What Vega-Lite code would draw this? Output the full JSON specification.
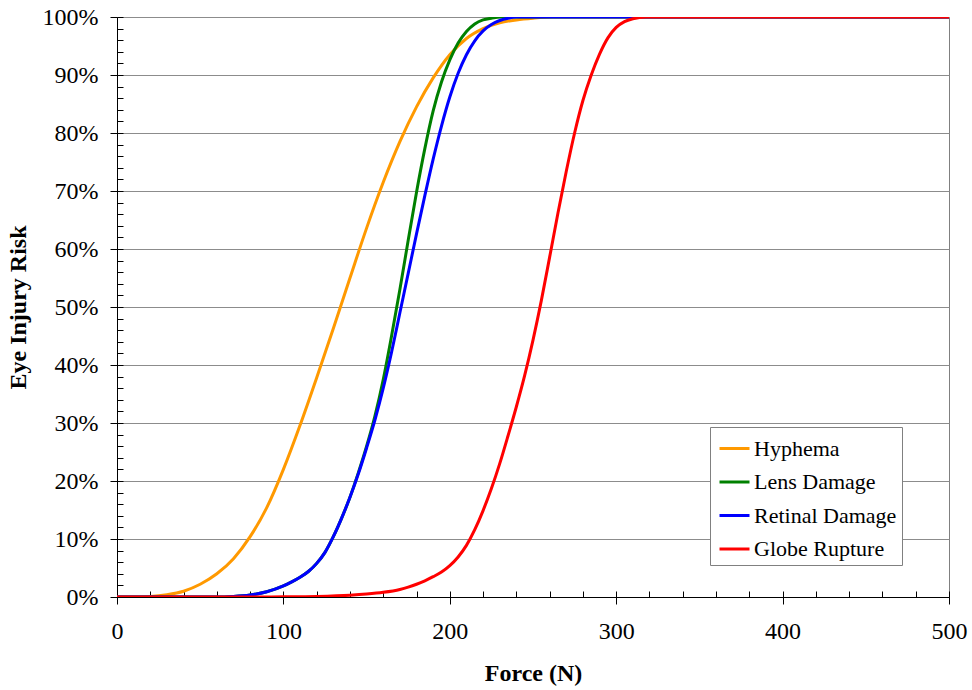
{
  "$schema": "https://vega.github.io/schema/vega-lite/v6.json",
  "width": 832,
  "height": 580,
  "autosize": {"type": "none"},
  "padding": {"left": 117, "top": 17, "right": 23, "bottom": 93},
  "background": "white",
  "config": {
    "view": {"stroke": "#808080", "strokeWidth": 1},
    "font": "Liberation Serif",
    "axis": {
      "labelFont": "Liberation Serif",
      "titleFont": "Liberation Serif",
      "labelColor": "black",
      "titleColor": "black",
      "domainColor": "black",
      "tickColor": "black"
    }
  },
  "datasets": {
    "curves": [
      {"force": 0, "risk": 0, "injury": "Hyphema"},
      {"force": 10, "risk": 0.02, "injury": "Hyphema"},
      {"force": 20, "risk": 0.1, "injury": "Hyphema"},
      {"force": 30, "risk": 0.4, "injury": "Hyphema"},
      {"force": 40, "risk": 1.0, "injury": "Hyphema"},
      {"force": 50, "risk": 2.2, "injury": "Hyphema"},
      {"force": 60, "risk": 4.0, "injury": "Hyphema"},
      {"force": 70, "risk": 6.6, "injury": "Hyphema"},
      {"force": 80, "risk": 10.4, "injury": "Hyphema"},
      {"force": 90, "risk": 15.4, "injury": "Hyphema"},
      {"force": 100, "risk": 22.0, "injury": "Hyphema"},
      {"force": 110, "risk": 29.6, "injury": "Hyphema"},
      {"force": 120, "risk": 37.8, "injury": "Hyphema"},
      {"force": 130, "risk": 46.3, "injury": "Hyphema"},
      {"force": 140, "risk": 55.0, "injury": "Hyphema"},
      {"force": 150, "risk": 63.6, "injury": "Hyphema"},
      {"force": 160, "risk": 71.5, "injury": "Hyphema"},
      {"force": 170, "risk": 78.5, "injury": "Hyphema"},
      {"force": 180, "risk": 84.5, "injury": "Hyphema"},
      {"force": 190, "risk": 89.5, "injury": "Hyphema"},
      {"force": 200, "risk": 93.5, "injury": "Hyphema"},
      {"force": 210, "risk": 96.3, "injury": "Hyphema"},
      {"force": 220, "risk": 98.0, "injury": "Hyphema"},
      {"force": 230, "risk": 99.0, "injury": "Hyphema"},
      {"force": 240, "risk": 99.5, "injury": "Hyphema"},
      {"force": 250, "risk": 99.8, "injury": "Hyphema"},
      {"force": 262, "risk": 100, "injury": "Hyphema"},
      {"force": 500, "risk": 100, "injury": "Hyphema"},

      {"force": 0, "risk": 0, "injury": "Lens Damage"},
      {"force": 60, "risk": 0, "injury": "Lens Damage"},
      {"force": 70, "risk": 0.1, "injury": "Lens Damage"},
      {"force": 80, "risk": 0.35, "injury": "Lens Damage"},
      {"force": 90, "risk": 0.9, "injury": "Lens Damage"},
      {"force": 100, "risk": 1.9, "injury": "Lens Damage"},
      {"force": 105, "risk": 2.6, "injury": "Lens Damage"},
      {"force": 110, "risk": 3.4, "injury": "Lens Damage"},
      {"force": 115, "risk": 4.4, "injury": "Lens Damage"},
      {"force": 120, "risk": 5.8, "injury": "Lens Damage"},
      {"force": 125, "risk": 7.7, "injury": "Lens Damage"},
      {"force": 130, "risk": 10.4, "injury": "Lens Damage"},
      {"force": 135, "risk": 13.6, "injury": "Lens Damage"},
      {"force": 140, "risk": 17.2, "injury": "Lens Damage"},
      {"force": 145, "risk": 21.4, "injury": "Lens Damage"},
      {"force": 150, "risk": 26.0, "injury": "Lens Damage"},
      {"force": 155, "risk": 31.2, "injury": "Lens Damage"},
      {"force": 160, "risk": 37.5, "injury": "Lens Damage"},
      {"force": 165, "risk": 45.0, "injury": "Lens Damage"},
      {"force": 170, "risk": 53.0, "injury": "Lens Damage"},
      {"force": 175, "risk": 61.5, "injury": "Lens Damage"},
      {"force": 180, "risk": 69.8, "injury": "Lens Damage"},
      {"force": 185, "risk": 77.3, "injury": "Lens Damage"},
      {"force": 190, "risk": 83.8, "injury": "Lens Damage"},
      {"force": 195, "risk": 88.8, "injury": "Lens Damage"},
      {"force": 200, "risk": 92.6, "injury": "Lens Damage"},
      {"force": 205, "risk": 95.5, "injury": "Lens Damage"},
      {"force": 210, "risk": 97.5, "injury": "Lens Damage"},
      {"force": 215, "risk": 98.8, "injury": "Lens Damage"},
      {"force": 220, "risk": 99.5, "injury": "Lens Damage"},
      {"force": 225, "risk": 99.8, "injury": "Lens Damage"},
      {"force": 231, "risk": 100, "injury": "Lens Damage"},
      {"force": 500, "risk": 100, "injury": "Lens Damage"},

      {"force": 0, "risk": 0, "injury": "Retinal Damage"},
      {"force": 60, "risk": 0, "injury": "Retinal Damage"},
      {"force": 70, "risk": 0.1, "injury": "Retinal Damage"},
      {"force": 80, "risk": 0.35, "injury": "Retinal Damage"},
      {"force": 90, "risk": 0.9, "injury": "Retinal Damage"},
      {"force": 100, "risk": 1.9, "injury": "Retinal Damage"},
      {"force": 105, "risk": 2.6, "injury": "Retinal Damage"},
      {"force": 110, "risk": 3.4, "injury": "Retinal Damage"},
      {"force": 115, "risk": 4.4, "injury": "Retinal Damage"},
      {"force": 120, "risk": 5.8, "injury": "Retinal Damage"},
      {"force": 125, "risk": 7.7, "injury": "Retinal Damage"},
      {"force": 130, "risk": 10.4, "injury": "Retinal Damage"},
      {"force": 135, "risk": 13.6, "injury": "Retinal Damage"},
      {"force": 140, "risk": 17.2, "injury": "Retinal Damage"},
      {"force": 145, "risk": 21.2, "injury": "Retinal Damage"},
      {"force": 150, "risk": 25.7, "injury": "Retinal Damage"},
      {"force": 155, "risk": 30.5, "injury": "Retinal Damage"},
      {"force": 160, "risk": 36.0, "injury": "Retinal Damage"},
      {"force": 165, "risk": 42.2, "injury": "Retinal Damage"},
      {"force": 170, "risk": 49.0, "injury": "Retinal Damage"},
      {"force": 175, "risk": 55.8, "injury": "Retinal Damage"},
      {"force": 180, "risk": 62.6, "injury": "Retinal Damage"},
      {"force": 185, "risk": 69.2, "injury": "Retinal Damage"},
      {"force": 190, "risk": 75.5, "injury": "Retinal Damage"},
      {"force": 195, "risk": 81.2, "injury": "Retinal Damage"},
      {"force": 200, "risk": 86.2, "injury": "Retinal Damage"},
      {"force": 205, "risk": 90.3, "injury": "Retinal Damage"},
      {"force": 210, "risk": 93.5, "injury": "Retinal Damage"},
      {"force": 215, "risk": 95.9, "injury": "Retinal Damage"},
      {"force": 220, "risk": 97.6, "injury": "Retinal Damage"},
      {"force": 225, "risk": 98.7, "injury": "Retinal Damage"},
      {"force": 230, "risk": 99.4, "injury": "Retinal Damage"},
      {"force": 235, "risk": 99.8, "injury": "Retinal Damage"},
      {"force": 240, "risk": 100, "injury": "Retinal Damage"},
      {"force": 500, "risk": 100, "injury": "Retinal Damage"},

      {"force": 0, "risk": 0, "injury": "Globe Rupture"},
      {"force": 80, "risk": 0, "injury": "Globe Rupture"},
      {"force": 100, "risk": 0.03, "injury": "Globe Rupture"},
      {"force": 120, "risk": 0.1, "injury": "Globe Rupture"},
      {"force": 140, "risk": 0.3, "injury": "Globe Rupture"},
      {"force": 150, "risk": 0.5, "injury": "Globe Rupture"},
      {"force": 160, "risk": 0.8, "injury": "Globe Rupture"},
      {"force": 170, "risk": 1.3, "injury": "Globe Rupture"},
      {"force": 175, "risk": 1.7, "injury": "Globe Rupture"},
      {"force": 180, "risk": 2.2, "injury": "Globe Rupture"},
      {"force": 185, "risk": 2.8, "injury": "Globe Rupture"},
      {"force": 190, "risk": 3.5, "injury": "Globe Rupture"},
      {"force": 195, "risk": 4.3, "injury": "Globe Rupture"},
      {"force": 200, "risk": 5.4, "injury": "Globe Rupture"},
      {"force": 205, "risk": 6.9, "injury": "Globe Rupture"},
      {"force": 210, "risk": 8.9, "injury": "Globe Rupture"},
      {"force": 215, "risk": 11.6, "injury": "Globe Rupture"},
      {"force": 220, "risk": 14.9, "injury": "Globe Rupture"},
      {"force": 225, "risk": 18.7, "injury": "Globe Rupture"},
      {"force": 230, "risk": 23.0, "injury": "Globe Rupture"},
      {"force": 235, "risk": 27.8, "injury": "Globe Rupture"},
      {"force": 240, "risk": 32.8, "injury": "Globe Rupture"},
      {"force": 245, "risk": 38.2, "injury": "Globe Rupture"},
      {"force": 250, "risk": 44.3, "injury": "Globe Rupture"},
      {"force": 255, "risk": 51.1, "injury": "Globe Rupture"},
      {"force": 260, "risk": 58.6, "injury": "Globe Rupture"},
      {"force": 265, "risk": 66.2, "injury": "Globe Rupture"},
      {"force": 270, "risk": 73.4, "injury": "Globe Rupture"},
      {"force": 275, "risk": 80.0, "injury": "Globe Rupture"},
      {"force": 280, "risk": 85.6, "injury": "Globe Rupture"},
      {"force": 285, "risk": 90.0, "injury": "Globe Rupture"},
      {"force": 290, "risk": 93.6, "injury": "Globe Rupture"},
      {"force": 295, "risk": 96.4, "injury": "Globe Rupture"},
      {"force": 300, "risk": 98.2, "injury": "Globe Rupture"},
      {"force": 305, "risk": 99.2, "injury": "Globe Rupture"},
      {"force": 310, "risk": 99.7, "injury": "Globe Rupture"},
      {"force": 318, "risk": 100, "injury": "Globe Rupture"},
      {"force": 500, "risk": 100, "injury": "Globe Rupture"}
    ]
  },
  "layer": [
    {
      "data": {"name": "curves"},
      "mark": {"type": "line", "strokeWidth": 3, "interpolate": "monotone", "clip": true},
      "encoding": {
        "x": {
          "field": "force",
          "type": "quantitative",
          "scale": {"domain": [0, 500], "nice": false, "zero": false},
          "axis": {
            "title": "Force (N)",
            "titleFontSize": 24,
            "titleFontWeight": "bold",
            "titlePadding": 18,
            "labelFontSize": 24,
            "labelPadding": 15,
            "values": [0, 100, 200, 300, 400, 500],
            "tickSize": 7,
            "grid": false,
            "domainColor": "black",
            "labelFlush": false
          }
        },
        "y": {
          "field": "risk",
          "type": "quantitative",
          "scale": {"domain": [0, 100], "nice": false, "zero": false},
          "axis": {
            "title": "Eye Injury Risk",
            "titleFontSize": 24,
            "titleFontWeight": "bold",
            "titlePadding": 12,
            "labelFontSize": 24,
            "labelPadding": 12,
            "values": [0, 10, 20, 30, 40, 50, 60, 70, 80, 90, 100],
            "labelExpr": "datum.value + '%'",
            "tickSize": 7,
            "grid": true,
            "gridColor": "#8c8c8c",
            "gridWidth": 1,
            "gridOpacity": 1,
            "labelFlush": false
          }
        },
        "color": {
          "field": "injury",
          "type": "nominal",
          "sort": ["Hyphema", "Lens Damage", "Retinal Damage", "Globe Rupture"],
          "scale": {
            "domain": ["Hyphema", "Lens Damage", "Retinal Damage", "Globe Rupture"],
            "range": ["#FF9900", "#008000", "#0000FF", "#FF0000"]
          },
          "legend": {
            "title": null,
            "orient": "none",
            "legendX": 593,
            "legendY": 410,
            "symbolType": "stroke",
            "symbolSize": 900,
            "symbolStrokeWidth": 3,
            "symbolOffset": 3,
            "labelFont": "Liberation Serif",
            "labelFontSize": 22,
            "labelColor": "black",
            "labelOffset": 3,
            "strokeColor": "#808080",
            "fillColor": "white",
            "padding": 5,
            "rowPadding": 5.5
          }
        }
      }
    },
    {
      "mark": {"type": "rule", "color": "black", "strokeWidth": 1},
      "encoding": {
        "x": {
          "datum": 0,
          "type": "quantitative",
          "axis": {
            "orient": "bottom",
            "title": null,
            "labels": false,
            "domain": false,
            "grid": false,
            "values": [0, 20, 40, 60, 80, 100, 120, 140, 160, 180, 200, 220, 240, 260, 280, 300, 320, 340, 360, 380, 400, 420, 440, 460, 480, 500],
            "tickSize": -6
          }
        },
        "x2": {"datum": 500},
        "y": {
          "datum": 100,
          "type": "quantitative",
          "axis": {
            "orient": "left",
            "title": null,
            "labels": false,
            "domain": false,
            "grid": false,
            "values": [0, 2, 4, 6, 8, 10, 12, 14, 16, 18, 20, 22, 24, 26, 28, 30, 32, 34, 36, 38, 40, 42, 44, 46, 48, 50, 52, 54, 56, 58, 60, 62, 64, 66, 68, 70, 72, 74, 76, 78, 80, 82, 84, 86, 88, 90, 92, 94, 96, 98, 100],
            "tickSize": -6
          }
        }
      }
    }
  ],
  "resolve": {"axis": {"x": "independent", "y": "independent"}}
}
